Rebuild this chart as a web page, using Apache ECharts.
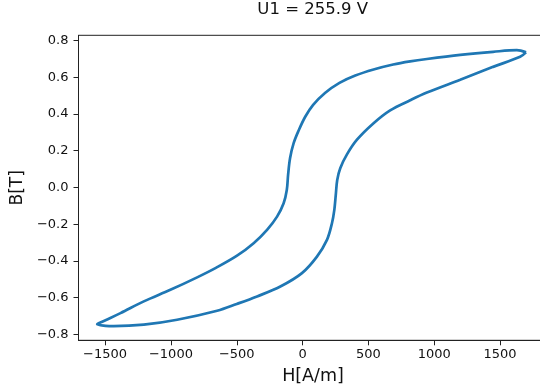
<!DOCTYPE html>
<html>
<head>
<meta charset="utf-8">
<script src="https://cdn.jsdelivr.net/npm/echarts@6/dist/echarts.min.js"></script>
<style>html,body{margin:0;padding:0;background:#fff;}#c{width:540px;height:385px;}</style>
</head>
<body>
<div id="c"></div>
<script>
var chartTitle = 'U1 = 255.9 V';
var xName = 'H[A/m]';
var yName = 'B[T]';
var xTicks = [-1500, -1000, -500, 0, 500, 1000, 1500];
var yTicks = [-0.8, -0.6, -0.4, -0.2, 0.0, 0.2, 0.4, 0.6, 0.8];
// Hysteresis loop, H [A/m]
var H = [1697, 1627, 1447, 1197, 944, 817, 688, 539, 400, 280, 170, 80, 20, -30, -68, -95, -110, -120, -144, -194, -270, -372, -498, -655, -801, -1004, -1206, -1383, -1522, -1560,
         -1497, -1434, -1206, -953, -649, -500, -346, -169, -5, 109, 185, 223, 241, 252, 263, 286, 337, 413, 539, 665, 817, 944, 1197, 1447, 1652, 1697];
// B [T]
var B = [0.736, 0.748, 0.739, 0.722, 0.700, 0.687, 0.670, 0.643, 0.610, 0.570, 0.515, 0.450, 0.385, 0.310, 0.241, 0.160, 0.070, -0.014, -0.086, -0.159, -0.231, -0.304, -0.372, -0.437, -0.490, -0.558, -0.621, -0.685, -0.732, -0.746,
         -0.754, -0.756, -0.748, -0.721, -0.672, -0.635, -0.594, -0.540, -0.467, -0.377, -0.286, -0.195, -0.122, -0.041, 0.041, 0.105, 0.180, 0.260, 0.350, 0.420, 0.475, 0.517, 0.587, 0.657, 0.712, 0.736];

var pts = H.map(function (h, i) { return [h, B[i]]; });
var font = 'DejaVu Sans';
function minus(s) { return s.replace('-', '\u2212'); }

var chart = echarts.init(document.getElementById('c'), null, {renderer: 'canvas'});
chart.setOption({
  animation: false,
  backgroundColor: '#fff',
  title: {
    text: chartTitle, left: 312.7, top: 1, padding: 0, textAlign: 'center',
    textStyle: {fontFamily: font, fontSize: 16.5, fontWeight: 'normal', color: '#111'}
  },
  grid: {left: 78.5, top: 35.3, right: -7.5, bottom: 44.7, show: true, borderColor: '#222', borderWidth: 1, containLabel: false, outerBoundsMode: 'none'},
  xAxis: {
    type: 'value', min: -1702, max: 1860,
    name: xName, nameLocation: 'middle', nameGap: 27,
    nameTextStyle: {fontFamily: font, fontSize: 17.5, color: '#111'},
    axisLine: {show: true, onZero: false, lineStyle: {color: '#222', width: 1}},
    axisTick: {show: true, length: 5, lineStyle: {color: '#222'}, customValues: xTicks},
    axisLabel: {fontFamily: font, fontSize: 13, color: '#111', margin: 8, customValues: xTicks,
      formatter: function (v) { return minus(String(v)); }},
    splitLine: {show: false}
  },
  yAxis: {
    type: 'value', min: -0.833, max: 0.829,
    name: yName, nameLocation: 'middle', nameGap: 48.5, nameRotate: 90,
    nameTextStyle: {fontFamily: font, fontSize: 17, color: '#111'},
    axisLine: {show: true, onZero: false, lineStyle: {color: '#222', width: 1}},
    axisTick: {show: true, length: 5, lineStyle: {color: '#222'}, customValues: yTicks},
    axisLabel: {fontFamily: font, fontSize: 13, color: '#111', margin: 10, customValues: yTicks,
      formatter: function (v) { return minus(v.toFixed(1)); }},
    splitLine: {show: false}
  },
  series: [{
    type: 'line', data: pts, showSymbol: false, smooth: 0.35,
    lineStyle: {color: '#1f77b4', width: 2.7}
  }]
});
</script>
</body>
</html>
